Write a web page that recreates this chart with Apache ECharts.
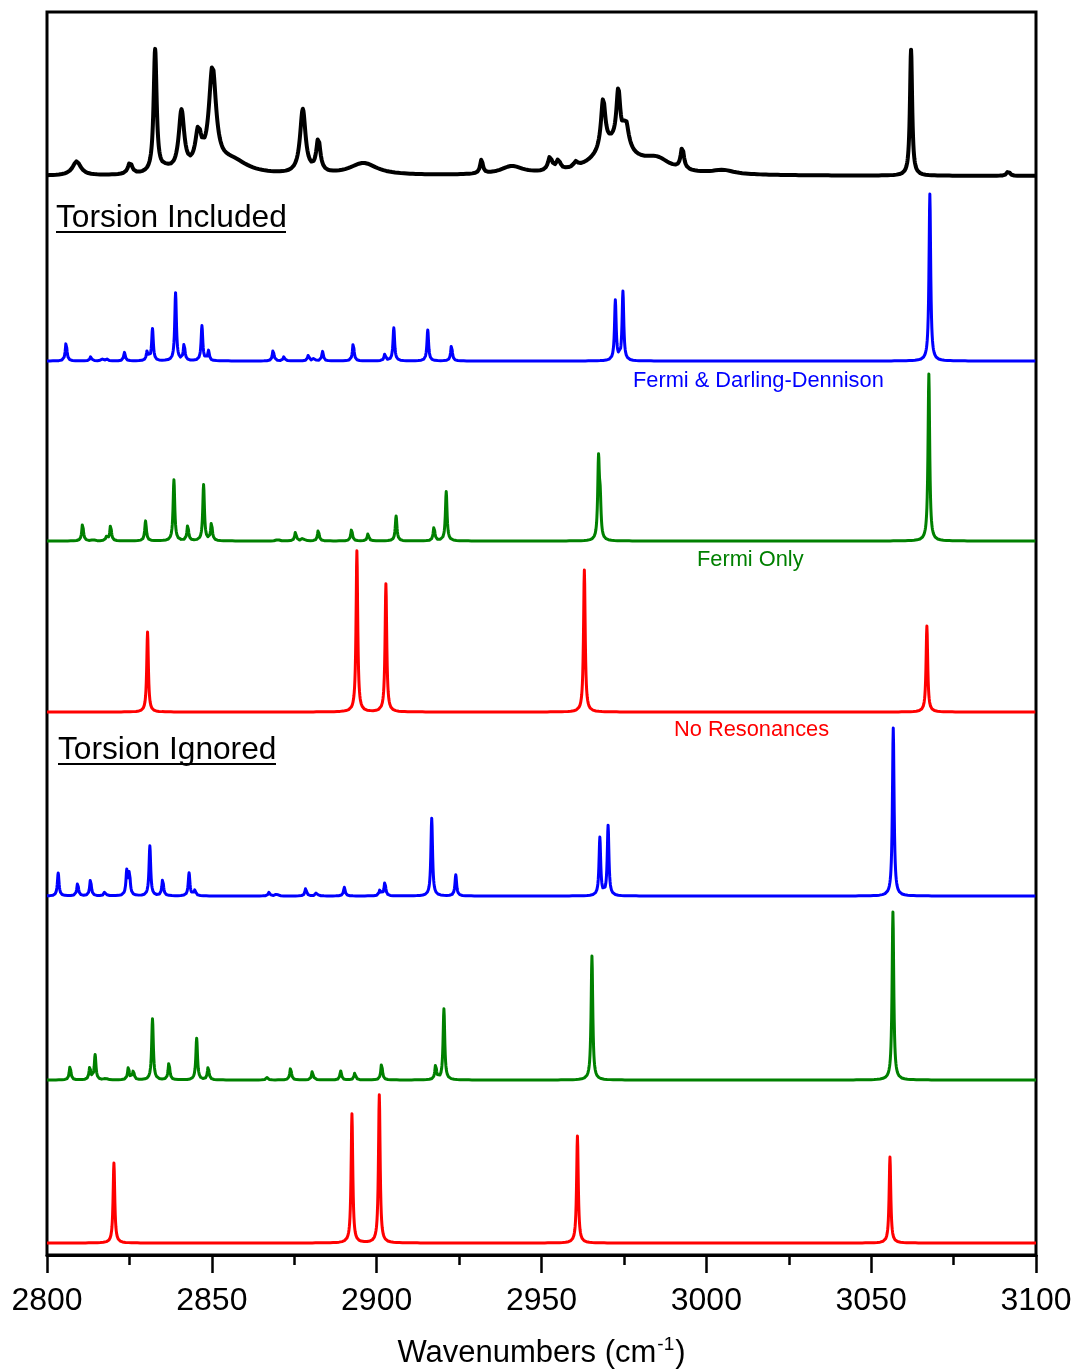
<!DOCTYPE html>
<html>
<head>
<meta charset="utf-8">
<script src="https://cdn.jsdelivr.net/npm/echarts@6/dist/echarts.min.js"></script>
<style>
  html, body { margin: 0; padding: 0; background: #fff; }
  #chart { width: 1073px; height: 1371px; }
</style>
</head>
<body>
<div id="chart"></div>
<script>
// ---- Axis ----
const xTickValues = [2800, 2850, 2900, 2950, 3000, 3050, 3100];

// ---- Measured spectrum: band centres (cm-1), peak intensities, band widths (FWHM, cm-1) ----
const expCenters = [2809.0, 2825.2, 2832.8, 2836.0, 2840.8, 2845.9, 2850.2, 2856.0, 2877.6, 2882.3, 2896.0, 2931.8, 2941.0, 2952.6, 2955.1, 2960.4, 2968.7, 2973.3, 2975.6, 2972.0, 2985.0, 2992.7, 3005.0, 3062.1, 3091.6];
const expHeights = [14, 12, 123, 4, 60, 36, 100, 14, 64, 33, 12, 14, 8, 14, 10, 5, 50, 52, 25, 30, 12, 22, 4, 126, 5];
const expWidths  = [3.0, 1.5, 1.1, 4.0, 2.0, 2.2, 2.6, 12, 2.0, 1.5, 10, 1.0, 8, 1.5, 1.5, 1.5, 1.6, 1.4, 2.0, 14, 10, 1.2, 8, 0.8, 1.0];

// ---- Torsion included: Fermi & Darling-Dennison ----
const inclFddCenters = [2805.8, 2813.3, 2816.6, 2818.0, 2823.5, 2830.4, 2832.0, 2839.0, 2841.6, 2847.0, 2849.0, 2868.6, 2871.9, 2879.3, 2881.0, 2883.6, 2892.9, 2902.5, 2905.2, 2915.5, 2922.7, 2972.4, 2974.7, 3067.8];
const inclFddHeights = [19, 4.5, 2.5, 2.5, 8.5, 10, 32, 68, 17, 35, 10, 11, 4.5, 6, 3, 9.5, 18, 7, 33, 31, 16, 60, 69, 167];

// ---- Torsion included: Fermi only ----
const inclFermiCenters = [2810.8, 2814.0, 2818.1, 2819.3, 2829.9, 2838.5, 2842.7, 2847.5, 2849.9, 2870.0, 2875.4, 2877.7, 2882.3, 2892.4, 2897.4, 2905.9, 2917.4, 2921.1, 2967.3, 2967.8, 3067.5];
const inclFermiHeights = [17.7, 2, 4.3, 16, 20, 61, 16, 56, 18.3, 2.7, 9.3, 4.3, 11, 12, 7.7, 25, 14.3, 49.3, 78, 35, 167];

// ---- Torsion included: no resonances ----
const inclNoneCenters = [2830.5, 2894.0, 2902.8, 2963.0, 3066.9];
const inclNoneHeights = [80, 161, 128, 142, 86];

// ---- Torsion ignored: Fermi & Darling-Dennison ----
const ignFddCenters = [2803.4, 2809.3, 2813.2, 2817.6, 2824.2, 2825.0, 2831.2, 2835.1, 2843.1, 2844.9, 2867.4, 2869.7, 2878.5, 2881.8, 2890.2, 2901.0, 2902.5, 2916.7, 2924.0, 2967.7, 2970.2, 3056.7];
const ignFddHeights = [23, 13, 17, 5, 24, 23, 50, 17, 23, 6, 4, 3, 8, 4, 8.7, 6, 14, 77.7, 21, 58, 70, 168];

// ---- Torsion ignored: Fermi only ----
const ignFermiCenters = [2807.0, 2813.0, 2814.6, 2817.8, 2824.7, 2826.2, 2832.0, 2837.0, 2845.4, 2848.9, 2866.8, 2873.9, 2880.5, 2889.1, 2893.4, 2901.5, 2917.9, 2920.4, 2965.3, 3056.6];
const ignFermiHeights = [14, 13, 25, 2.7, 13, 9, 61, 17.7, 41.7, 13.3, 2.7, 12.3, 9, 9, 7.3, 16.7, 15, 71, 124, 168];

// ---- Torsion ignored: no resonances ----
const ignNoneCenters = [2820.3, 2892.5, 2900.8, 2960.9, 3055.7];
const ignNoneHeights = [80, 129, 148, 107, 86];

// Stick spectra are broadened with a Lorentzian line shape of this FWHM (cm-1)
const SIM_FWHM = 0.6;

// Vertical stacking of the traces (baseline in axis units)
const stack = { exp: 1079, inclFdd: 894, inclFermi: 714, inclNone: 543, ignFdd: 359, ignFermi: 175, ignNone: 12 };

function sampleGrid(centers) {
  const xs = [];
  for (let i = 0; i <= 3000; i++) xs.push(2800 + i * 0.1);
  centers.forEach(c => xs.push(c));
  xs.sort((a, b) => a - b);
  return xs;
}

function lorentzSum(centers, heights, widths, offset) {
  const xs = sampleGrid(centers);
  return xs.map(x => {
    let y = 0;
    for (let i = 0; i < centers.length; i++) {
      const g = (Array.isArray(widths) ? widths[i] : widths) / 2;
      const d = x - centers[i];
      y += heights[i] * g * g / (d * d + g * g);
    }
    return [x, y + offset];
  });
}

const FONT = '"Liberation Sans", Arial, sans-serif';

function trace(data, color, width) {
  return {
    type: 'line', data, showSymbol: false, symbol: 'none', silent: true,
    lineStyle: { color, width, join: 'round' }, animation: false, z: 3
  };
}

function label(text, x, y, size, color) {
  return {
    type: 'text', x, y,
    style: { text, font: size + 'px ' + FONT, fill: color, align: 'left', verticalAlign: 'middle', textAlign: 'left', textVerticalAlign: 'middle' }
  };
}

const chart = echarts.init(document.getElementById('chart'), null, { renderer: 'canvas' });

chart.setOption({
  backgroundColor: '#fff',
  animation: false,
  grid: {
    left: 47, right: 37, top: 12, bottom: 116,
    outerBoundsMode: 'none', containLabel: false,
    show: true, borderColor: '#000', borderWidth: 3, backgroundColor: 'transparent'
  },
  xAxis: {
    type: 'value', min: xTickValues[0], max: xTickValues[xTickValues.length - 1], interval: 50,
    axisLine: { show: true, lineStyle: { color: '#000', width: 3 } },
    axisTick: { show: true, inside: false, length: 18, lineStyle: { color: '#000', width: 2.5 } },
    minorTick: { show: true, splitNumber: 2, length: 10, lineStyle: { color: '#000', width: 2.5 } },
    splitLine: { show: false },
    axisLabel: { color: '#000', fontSize: 32, fontFamily: FONT, margin: 30, formatter: v => String(v) },
    name: '{a|Wavenumbers (cm}{s|-1}{a|)}',
    nameLocation: 'middle', nameGap: 80,
    nameTextStyle: {
      rich: {
        a: { fontSize: 31, fontFamily: FONT, color: '#000' },
        s: { fontSize: 19, fontFamily: FONT, color: '#000', padding: [0, 1, 18, 1] }
      }
    }
  },
  yAxis: { type: 'value', min: 0, max: 1243, show: false, splitLine: { show: false } },
  series: [
    trace(lorentzSum(expCenters, expHeights, expWidths, stack.exp), '#000', 4),
    trace(lorentzSum(inclFddCenters, inclFddHeights, SIM_FWHM, stack.inclFdd), '#0000ff', 3),
    trace(lorentzSum(inclFermiCenters, inclFermiHeights, SIM_FWHM, stack.inclFermi), '#008000', 3),
    trace(lorentzSum(inclNoneCenters, inclNoneHeights, SIM_FWHM, stack.inclNone), '#ff0000', 3),
    trace(lorentzSum(ignFddCenters, ignFddHeights, SIM_FWHM, stack.ignFdd), '#0000ff', 3),
    trace(lorentzSum(ignFermiCenters, ignFermiHeights, SIM_FWHM, stack.ignFermi), '#008000', 3),
    trace(lorentzSum(ignNoneCenters, ignNoneHeights, SIM_FWHM, stack.ignNone), '#ff0000', 3)
  ],
  graphic: [
    label('Torsion Included', 56, 218, 31.7, '#000'),
    { type: 'line', shape: { x1: 56, y1: 232, x2: 286, y2: 232 }, style: { stroke: '#000', lineWidth: 2 } },
    label('Torsion Ignored', 58, 750, 31.7, '#000'),
    { type: 'line', shape: { x1: 58, y1: 764, x2: 276, y2: 764 }, style: { stroke: '#000', lineWidth: 2 } },
    label('Fermi & Darling-Dennison', 633, 381, 21.8, '#0000ff'),
    label('Fermi Only', 697, 560, 21.8, '#008000'),
    label('No Resonances', 674, 730, 21.8, '#ff0000')
  ]
});
</script>
</body>
</html>
